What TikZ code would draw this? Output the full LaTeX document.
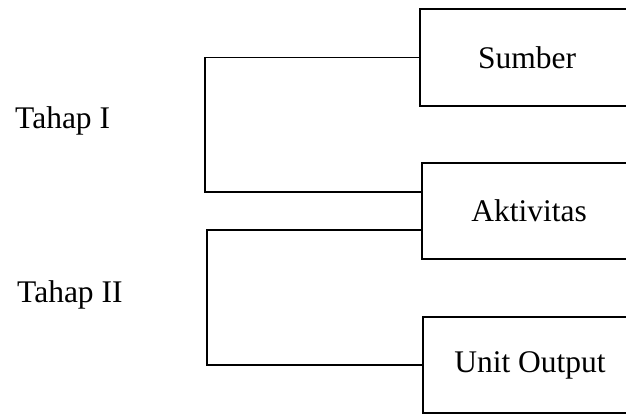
\documentclass[tikz,border=0pt]{standalone}
\usepackage{fontspec}
\setmainfont{Liberation Serif}
\begin{document}
\begin{tikzpicture}[x=1pt,y=-1pt,
  every node/.style={font=\fontsize{31.5}{38}\selectfont},
  stagebox/.style={draw, line width=1.9pt, minimum width=214pt, minimum height=97pt, inner sep=0pt},
  link/.style={line width=1.9pt},
  stagelabel/.style={anchor=base west, inner sep=0pt}]
\useasboundingbox (0,0) rectangle (626,414);
\clip (0,0) rectangle (626,414);
\node[stagebox] (sumber) at (527,57.5) {Sumber};
\node[stagebox, minimum height=96pt] (aktivitas) at (529,211) {Aktivitas};
\node[stagebox, minimum height=96pt] (unit) at (530,365) {Unit Output};
\node[stagelabel] (tahap1) at (15,129) {Tahap I};
\node[stagelabel] (tahap2) at (17,302) {Tahap II};
\draw[link] (sumber.west) -- ++(-214,0) |- ([yshift=19pt]aktivitas.west);
\draw[link] ([yshift=-19pt]aktivitas.west) -- ++(-214,0) |- (unit.west);
\end{tikzpicture}
\end{document}
